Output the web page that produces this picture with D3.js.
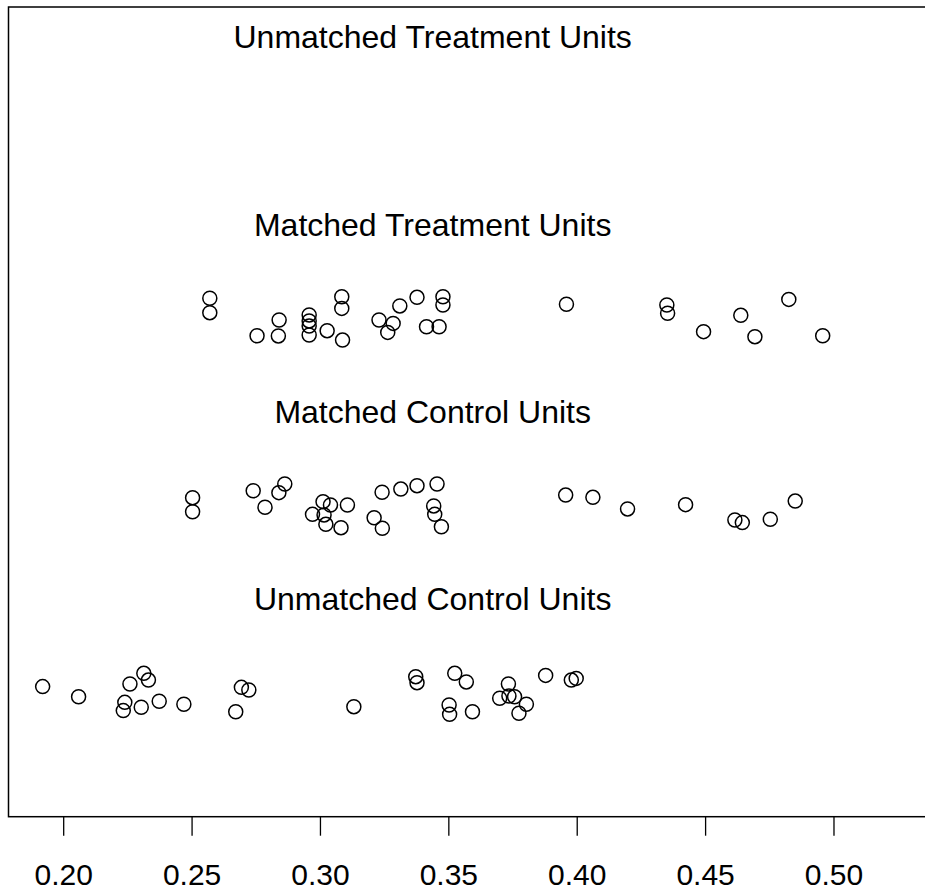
<!DOCTYPE html>
<html><head><meta charset="utf-8">
<script src="https://cdn.jsdelivr.net/npm/d3@7"></script>
<style>body{margin:0;background:#fff}svg{display:block}text{font-family:"Liberation Sans",Arial,sans-serif;fill:#000}</style>
</head><body><div id="chart"></div>
<script>
const groupLabels = ["Unmatched Control Units", "Matched Control Units", "Matched Treatment Units", "Unmatched Treatment Units"];
const groupLevels = [1, 2, 3, 4];
const xTicks = [0.20, 0.25, 0.30, 0.35, 0.40, 0.45, 0.50];
const xLimits = [0.1787, 0.5372];
const yLimits = [0.34, 4.66];

const matchedTreatmentX = [0.2571,0.2571,0.2755,0.2841,0.2838,0.2958,0.2958,0.2958,0.2958,0.3028,0.3085,0.3085,0.3088,0.3230,0.3264,0.3285,0.3311,0.3378,0.3415,0.3464,0.3479,0.3479,0.3960,0.4351,0.4354,0.4494,0.4639,0.4694,0.4826,0.4958];
const matchedTreatmentY = [3.106,3.029,2.906,2.990,2.905,3.017,2.985,2.958,2.910,2.933,3.114,3.052,2.883,2.990,2.924,2.972,3.065,3.111,2.954,2.954,3.114,3.070,3.074,3.070,3.026,2.928,3.015,2.901,3.100,2.906];

const matchedControlX = [0.2504,0.2504,0.2740,0.2786,0.2840,0.2863,0.3012,0.3041,0.2971,0.3016,0.3023,0.3082,0.3107,0.3211,0.3243,0.3242,0.3315,0.3378,0.3456,0.3443,0.3447,0.3473,0.3957,0.4063,0.4198,0.4424,0.4616,0.4645,0.4754,0.4851];
const matchedControlY = [2.042,1.967,2.079,1.991,2.069,2.115,2.021,2.003,1.953,1.950,1.900,1.882,2.003,1.935,1.879,2.071,2.088,2.106,2.115,1.998,1.953,1.887,2.056,2.044,1.982,2.005,1.923,1.909,1.927,2.024];

const unmatchedControlX = [0.1920,0.2060,0.2260,0.2314,0.2332,0.2240,0.2234,0.2304,0.2374,0.2470,0.2694,0.2723,0.2672,0.3132,0.3373,0.3378,0.3525,0.3570,0.3503,0.3505,0.3594,0.3734,0.3700,0.3736,0.3758,0.3804,0.3775,0.3879,0.3979,0.3998];
const unmatchedControlY = [1.034,0.980,1.048,1.105,1.069,0.950,0.906,0.924,0.956,0.940,1.030,1.016,0.900,0.927,1.087,1.055,1.105,1.059,0.936,0.886,0.900,1.048,0.972,0.984,0.980,0.940,0.892,1.094,1.069,1.078];

const W = 925, H = 892;
const svg = d3.select("#chart").append("svg").attr("width", W).attr("height", H);
const x = d3.scaleLinear().domain(xLimits).range([8.5, 929]);
const y = d3.scaleLinear().domain(yLimits).range([816.7, 7]);

// box
svg.append("rect").attr("x", x(xLimits[0])).attr("y", y(yLimits[1]))
  .attr("width", x(xLimits[1]) - x(xLimits[0])).attr("height", y(yLimits[0]) - y(yLimits[1]))
  .attr("fill", "none").attr("stroke", "#000").attr("stroke-width", 1.5);

// axis
const axis = d3.axisBottom(x).tickValues(xTicks).tickFormat(d3.format(".2f")).tickSize(19).tickPadding(28);
const ag = svg.append("g").attr("transform", `translate(0,${y(yLimits[0])})`).call(axis);
ag.select(".domain").remove();
ag.selectAll("line").attr("stroke", "#000").attr("stroke-width", 1.3);
ag.selectAll("text").style("font-size", "30px").style("font-family", '"Liberation Sans", Arial, sans-serif').attr("fill", "#000");

// group labels
const xMid = (d3.min(unmatchedControlX.concat(matchedTreatmentX)) + d3.max(matchedTreatmentX.concat(unmatchedControlX))) / 2;
svg.selectAll(".glab").data(groupLabels).join("text").attr("class", "glab")
  .attr("x", x(xMid)).attr("y", (d, i) => y(groupLevels[i] + 0.5))
  .attr("dy", "0.35em").attr("text-anchor", "middle").style("font-size", "32px").text(d => d);

function pts(xs, ys) {
  svg.append("g").selectAll("circle").data(xs.map((v, i) => [v, ys[i]])).join("circle")
    .attr("cx", d => x(d[0])).attr("cy", d => y(d[1])).attr("r", 7)
    .attr("fill", "none").attr("stroke", "#000").attr("stroke-width", 1.5);
}
pts(matchedTreatmentX, matchedTreatmentY);
pts(matchedControlX, matchedControlY);
pts(unmatchedControlX, unmatchedControlY);
</script></body></html>
